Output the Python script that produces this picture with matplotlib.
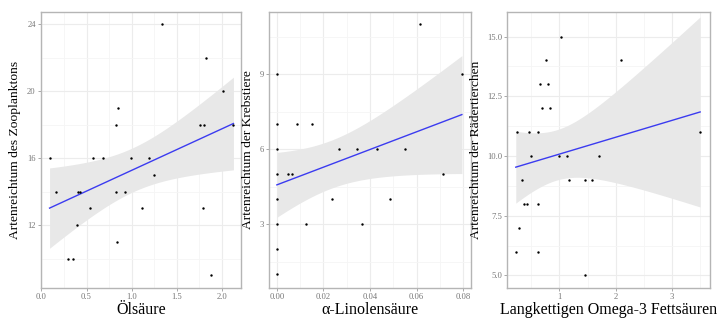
import numpy as np
import matplotlib
matplotlib.use('Agg')
import matplotlib.pyplot as plt
from matplotlib.ticker import FixedLocator, FormatStrFormatter

# panel 1: oleic acid vs zooplankton richness
oel_x = [0.09, 0.16, 0.30, 0.35, 0.40, 0.41, 0.43, 0.54, 0.57, 0.68, 0.83, 0.85, 0.83, 0.84,
         0.93, 0.99, 1.12, 1.19, 1.25, 1.34, 1.76, 1.80, 1.79, 1.83, 1.88, 2.01, 2.13]
oel_y = [16, 14, 10, 10, 12, 14, 14, 13, 16, 16, 18, 19, 14, 11,
         14, 16, 13, 16, 15, 24, 18, 18, 13, 22, 9, 20, 18]

# panel 2: alpha-linolenic acid vs crustacean richness
ala_x = [0, 0, 0, 0, 0, 0, 0, 0, 0.0049, 0.0063, 0.0087, 0.0125, 0.0153, 0.0235, 0.0265,
         0.0343, 0.0364, 0.0429, 0.0486, 0.0552, 0.0615, 0.0713, 0.0795]
ala_y = [9, 7, 6, 5, 4, 3, 2, 1, 5, 5, 7, 3, 7, 4, 6,
         6, 3, 6, 4, 6, 11, 5, 9]

# panel 3: long chain omega-3 vs rotifer richness
om3_x = [0.22, 0.25, 0.27, 0.33, 0.37, 0.42, 0.45, 0.49, 0.61, 0.61, 0.62, 0.66, 0.68,
         0.76, 0.80, 0.83, 1.00, 1.02, 1.13, 1.17, 1.45, 1.45, 1.58, 1.70, 2.09, 3.51]
om3_y = [6, 11, 7, 9, 8, 8, 11, 10, 8, 6, 11, 13, 12,
         14, 13, 12, 10, 15, 10, 9, 5, 9, 9, 10, 14, 11]

plt.rcParams['font.family'] = ['Liberation Serif', 'DejaVu Serif']

def t975(df):
    # approximate 97.5% student-t quantile
    z = 1.959964
    return z + (z**3 + z) / (4 * df) + (5 * z**5 + 16 * z**3 + 3 * z) / (96 * df**2)

def lm_band(ax, x, y):
    x = np.asarray(x, float)
    y = np.asarray(y, float)
    n = len(x)
    b, a = np.polyfit(x, y, 1)
    xs = np.linspace(x.min(), x.max(), 80)
    fit = a + b * xs
    resid = y - (a + b * x)
    s = np.sqrt(np.sum(resid**2) / (n - 2))
    se = s * np.sqrt(1.0 / n + (xs - x.mean())**2 / np.sum((x - x.mean())**2))
    t = t975(n - 2)
    ax.fill_between(xs, fit - t * se, fit + t * se, color='#e8e8e8', lw=0, zorder=2)
    ax.plot(xs, fit, color='#3b3bf0', lw=1.0, zorder=3)

def panel(rect, x, y, xlim, ylim, xmaj, xmin, ymaj, ymin, xfmt, yfmt, xlabel, ylabel, ylab_x):
    ax = fig.add_axes(rect)
    ax.set_xlim(xlim)
    ax.set_ylim(ylim)
    ax.xaxis.set_major_locator(FixedLocator(xmaj))
    ax.xaxis.set_minor_locator(FixedLocator(xmin))
    ax.yaxis.set_major_locator(FixedLocator(ymaj))
    ax.yaxis.set_minor_locator(FixedLocator(ymin))
    ax.xaxis.set_major_formatter(FormatStrFormatter(xfmt))
    ax.yaxis.set_major_formatter(FormatStrFormatter(yfmt))
    ax.grid(which='major', color='#ececec', lw=0.8, zorder=0)
    ax.grid(which='minor', color='#f5f5f5', lw=0.6, zorder=0)
    ax.set_axisbelow(True)
    for sp in ax.spines.values():
        sp.set_color('#b5b5b5')
        sp.set_linewidth(1.0)
    ax.tick_params(which='major', length=2, width=0.6, color='#999999',
                   labelsize=6.2, labelcolor='#777777', pad=1.5)
    ax.tick_params(which='minor', length=0)
    lm_band(ax, x, y)
    ax.scatter(x, y, s=3, color='black', zorder=4, linewidths=0)
    ax.set_xlabel(xlabel, fontsize=11.5, labelpad=1)
    ax.set_ylabel(ylabel, fontsize=9.7)
    ax.yaxis.set_label_coords(ylab_x, 0.5)
    return ax

fig = plt.figure(figsize=(7.24, 3.24), dpi=100)

panel([0.056, 0.111, 0.277, 0.852], oel_x, oel_y, (-0.01, 2.215), (8.24, 24.73),
      [0.0, 0.5, 1.0, 1.5, 2.0], [0.25, 0.75, 1.25, 1.75], [12, 16, 20, 24], [10, 14, 18, 22],
      '%.1f', '%d', 'Ölsäure', 'Artenreichtum des Zooplanktons', -0.095)

panel([0.3715, 0.111, 0.279, 0.852], ala_x, ala_y, (-0.0034, 0.0834), (0.45, 11.5),
      [0.0, 0.02, 0.04, 0.06, 0.08], [0.01, 0.03, 0.05, 0.07], [3, 6, 9], [1.5, 4.5, 7.5, 10.5],
      '%.2f', '%d', 'α-Linolensäure', 'Artenreichtum der Krebstiere', -0.075)

panel([0.700, 0.111, 0.281, 0.852], om3_x, om3_y, (0.06, 3.69), (4.47, 16.03),
      [1, 2, 3], [0.5, 1.5, 2.5, 3.5], [5, 7.5, 10, 12.5, 15], [6.25, 8.75, 11.25, 13.75],
      '%d', '%.1f', 'Langkettigen Omega-3 Fettsäuren', 'Artenreichtum der Rädertierchen', -0.12)

fig.savefig('out.png', dpi=100, facecolor='white')
